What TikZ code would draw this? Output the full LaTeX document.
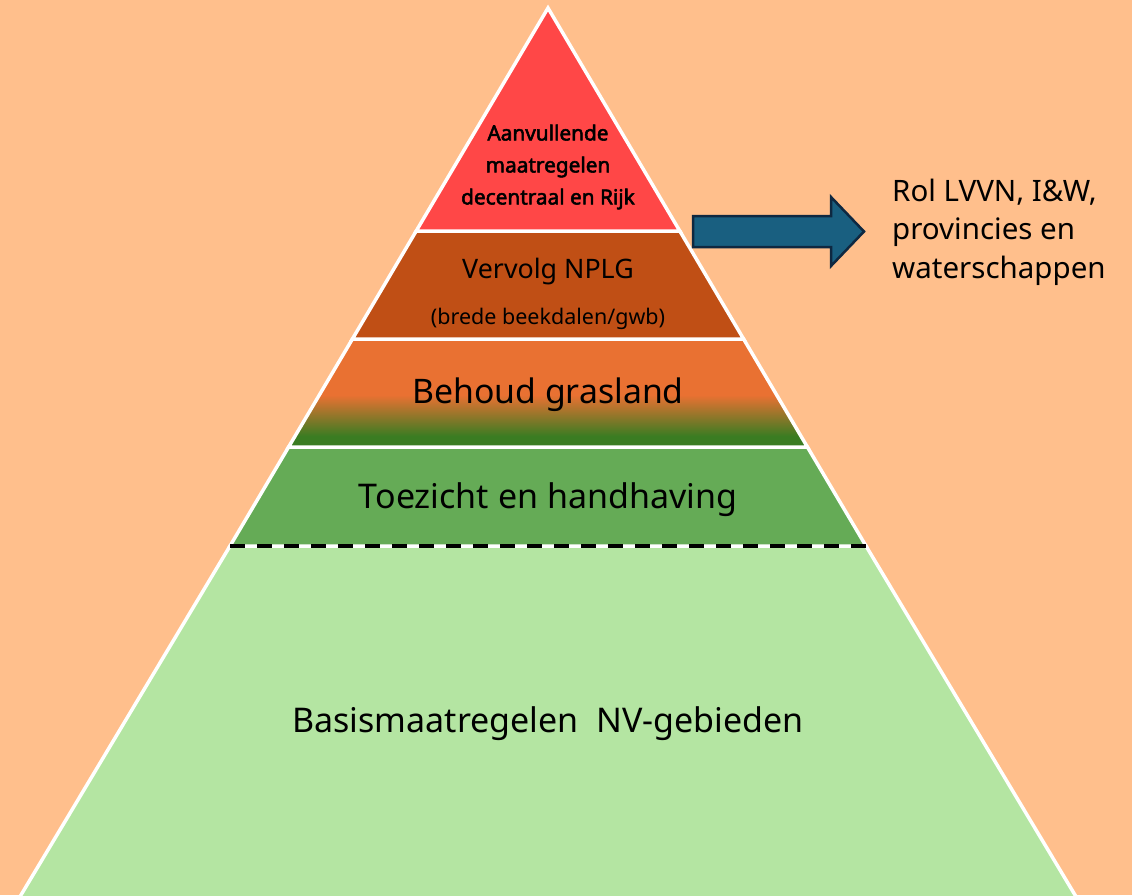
\documentclass[tikz,border=0pt]{standalone}
\usepackage{fontspec}
\setmainfont{Noto Sans}
\newfontfamily\topfont{Noto Sans}[FakeBold=2.5]
\definecolor{bg}{RGB}{255,191,140}
\definecolor{topred}{RGB}{255,71,71}
\definecolor{vervolgc}{RGB}{192,79,21}
\definecolor{orangeB}{RGB}{233,113,50}
\definecolor{greenB}{RGB}{58,124,34}
\definecolor{toezichtc}{RGB}{101,171,86}
\definecolor{basisc}{RGB}{180,229,162}
\definecolor{arrowfill}{RGB}{25,95,128}
\definecolor{arrowline}{RGB}{14,40,65}
\pgfdeclareverticalshading{behoudshade}{100bp}{color(0bp)=(greenB); color(30bp)=(greenB); color(49bp)=(orangeB); color(100bp)=(orangeB)}
\tikzset{
  layer/.style={draw=white, line width=3.5pt, line join=miter},
  lbl/.style={text=black, inner sep=0pt},
}
\begin{document}
\begin{tikzpicture}[x=1pt,y=-1pt]
\useasboundingbox (0,0) rectangle (1132,895);
\clip (0,0) rectangle (1132,895);
\fill[bg] (0,0) rectangle (1132,895);
% layers
\path[layer, fill=basisc] (230,546) -- (866,546) -- (1081,905) -- (15,905) -- cycle;
\path[layer, fill=toezichtc] (288.6,447) -- (807.4,447) -- (866,546) -- (230,546) -- cycle;
\draw[black, line width=4pt, dash pattern=on 15pt off 12pt] (230,546) -- (866,546);
\shadedraw[layer, shading=behoudshade] (352.4,339) -- (743.6,339) -- (807.4,447) -- (288.6,447) -- cycle;
\path[layer, fill=vervolgc] (416.2,231) -- (679.8,231) -- (743.6,339) -- (352.4,339) -- cycle;
\path[layer, fill=topred] (548,8) -- (679.8,231) -- (416.2,231) -- cycle;
% arrow
\draw[fill=arrowfill, draw=arrowline, line width=2.5pt, line join=miter] (693,216) -- (831,216) -- (831,197) -- (864,231.5) -- (831,266) -- (831,247) -- (693,247) -- cycle;
% labels
\node[lbl, font=\topfont\fontsize{20.8}{32}\selectfont, align=center] (top) at (548,167) {Aanvullende\\maatregelen\\decentraal en Rijk};
\node[lbl, font=\fontsize{26.8}{30}\selectfont] (vervolg) at (548,272) {Vervolg NPLG};
\node[lbl, font=\fontsize{21.5}{24}\selectfont] (brede) at (548,319) {(brede beekdalen/gwb)};
\node[lbl, font=\fontsize{33.8}{38}\selectfont] (behoud) at (548,395) {Behoud grasland};
\node[lbl, font=\fontsize{34}{38}\selectfont] (toezicht) at (548,500) {Toezicht en handhaving};
\node[lbl, font=\fontsize{34}{38}\selectfont] (basis) at (548,724) {Basismaatregelen\ \ NV-gebieden};
\node[lbl, anchor=west, align=left, font=\fontsize{29.5}{38.5}\selectfont] (rol) at (892,232) {Rol LVVN, I\&W,\\provincies en\\waterschappen};
\end{tikzpicture}
\end{document}
